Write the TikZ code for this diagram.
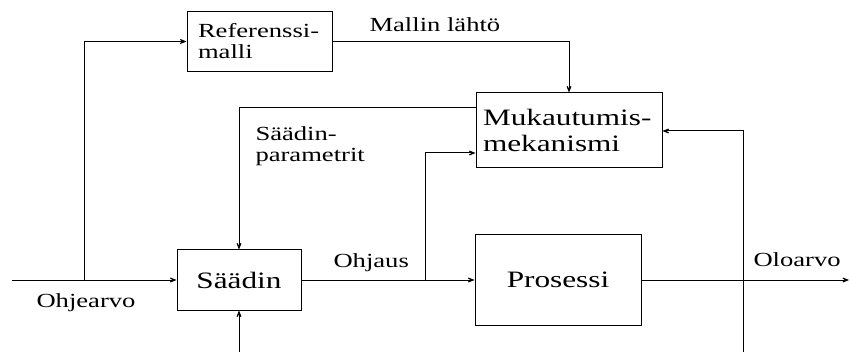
\documentclass[tikz,border=0pt]{standalone}
\usepackage{fontspec}
\newfontfamily\diafont[FakeStretch=1.33]{Liberation Serif}
\usetikzlibrary{arrows.meta}
\begin{document}
\begin{tikzpicture}[x=1pt,y=-1pt,
  line width=1pt,
  arr/.style={-{Stealth[length=11pt,width=9pt,inset=7pt]}},
  blk/.style={draw,inner sep=0pt,font=\diafont\fontsize{23.5}{26}\selectfont},
  lbl/.style={inner sep=0pt,anchor=base west,font=\diafont\fontsize{20}{21}\selectfont}]
\useasboundingbox (0,0) rectangle (850,352);
% blocks
\node[blk,minimum width=145pt,minimum height=60pt,text width=123pt,align=left,inner xsep=11pt,font=\diafont\fontsize{20}{21}\selectfont] (ref) at (259.5,41.5) {Referenssi-\\malli};
\node[blk,minimum width=186pt,minimum height=75pt,text width=172pt,align=left,inner xsep=7pt] (muk) at (569,130.5) {Mukautumis-\\mekanismi};
\node[blk,minimum width=124pt,minimum height=60pt] (saa) at (239,280) {Säädin};
\node[blk,minimum width=166pt,minimum height=90pt] (pro) at (558,280) {Prosessi};
% coordinates
\coordinate (in) at (12,280);
\coordinate (b1) at (84,280);
\coordinate (b2) at (425,280);
\coordinate (out) at (849,280);
\coordinate (fb) at (743,352);
\coordinate (dist) at (239,352);
% connectors
\draw[arr] (in) -- (saa.west);
\draw[arr] (b1) -- (b1 |- ref.west) -- (ref.west);
\draw[arr] (ref.east) -| (muk.north);
\draw[arr] (muk.west |- 0,108) -| (saa.north);
\draw[arr] (saa.east) -- (pro.west);
\draw[arr] (b2) |- (muk.west |- 0,153);
\draw[arr] (pro.east) -- (out);
\draw[arr] (fb) |- (muk.east |- 0,131);
\draw[arr] (dist) -- (saa.south);
% labels
\node[lbl] (l1) at (369,32) {Mallin lähtö};
\node[lbl] (l2) at (255,141) {Säädin-};
\node[lbl] (l3) at (255,162) {parametrit};
\node[lbl] (l4) at (36,307) {Ohjearvo};
\node[lbl] (l5) at (333,268) {Ohjaus};
\node[lbl] (l6) at (753,267) {Oloarvo};
\end{tikzpicture}
\end{document}
